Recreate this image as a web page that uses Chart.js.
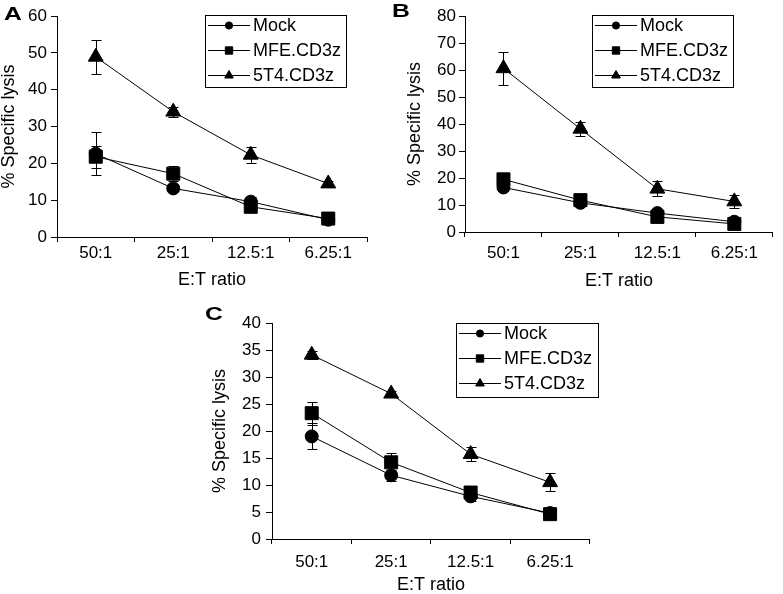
<!DOCTYPE html>
<html><head><meta charset="utf-8">
<script src="https://cdn.jsdelivr.net/npm/chart.js@4/dist/chart.umd.min.js"></script>
<style>
html,body{margin:0;padding:0;background:#fff}
body{width:783px;height:594px;position:relative;overflow:hidden;font-family:"Liberation Sans",Arial,sans-serif}
canvas{position:absolute}
.pl{position:absolute;font-weight:bold;font-size:19px;line-height:19px;color:#000;font-family:"Liberation Sans",Arial,sans-serif}
</style></head>
<body>
<canvas id="cA" width="390" height="300" style="left:0;top:0;width:390px;height:300px"></canvas>
<canvas id="cB" width="393" height="300" style="left:390px;top:0;width:393px;height:300px"></canvas>
<canvas id="cC" width="400" height="294" style="left:200px;top:300px;width:400px;height:294px"></canvas>
<div class="pl" style="left:4px;top:4px;transform:scaleX(1.3);transform-origin:left top">A</div>
<div class="pl" style="left:392px;top:1px;transform:scaleX(1.3);transform-origin:left top">B</div>
<div class="pl" style="left:205px;top:304px;transform:scaleX(1.3);transform-origin:left top">C</div>
<script>
// ---- data ----
const categories = ['50:1', '25:1', '12.5:1', '6.25:1'];
const seriesNames = ['Mock', 'MFE.CD3z', '5T4.CD3z'];
const xTitle = 'E:T ratio';
const yTitle = '% Specific lysis';

// Panel A
const aMock = [22.6, 13.2, 9.6, 4.7];
const aMockErr = [5.8, 0.8, 1.3, 0.5];
const aMfe = [21.8, 17.2, 8.2, 5.0];
const aMfeErr = [3.0, 2.1, 1.0, 0.6];
const a5t4 = [48.9, 34.0, 22.3, 14.5];
const a5t4Err = [4.6, 1.3, 2.2, 0.6];
const aYMax = 60, aYStep = 10;

// Panel B
const bMock = [16.5, 10.8, 7.0, 3.8];
const bMockErr = [1.0, 0.8, 0.8, 0.5];
const bMfe = [19.5, 11.8, 5.6, 3.0];
const bMfeErr = [1.0, 0.8, 0.6, 0.4];
const b5t4 = [60.6, 38.2, 16.0, 11.3];
const b5t4Err = [6.2, 2.6, 2.8, 2.4];
const bYMax = 80, bYStep = 10;

// Panel C
const cMock = [19.0, 11.8, 7.9, 4.8];
const cMockErr = [2.4, 1.0, 0.8, 0.4];
const cMfe = [23.3, 14.2, 8.6, 4.6];
const cMfeErr = [2.1, 1.8, 0.6, 0.4];
const c5t4 = [34.1, 26.9, 15.7, 10.5];
const c5t4Err = [0.7, 0.5, 1.3, 1.7];
const cYMax = 40, cYStep = 5;

// ---- styling ----
const FONT = '"Liberation Sans", Arial, sans-serif';
const pointStyles = ['circle', 'rect', 'triangle'];
const pointRadii = [6.5, 9.2, 8.6];
const legendRadii = [3.6, 5.2, 5.0];

function drawMarker(ctx, style, r, x, y) {
  ctx.beginPath();
  if (style === 'circle') {
    ctx.arc(x, y, r, 0, Math.PI * 2);
  } else if (style === 'rect') {
    const s = Math.SQRT1_2 * r;
    ctx.rect(x - s, y - s, 2 * s, 2 * s);
  } else {
    let rad = 0;
    ctx.moveTo(x + Math.sin(rad) * r, y - Math.cos(rad) * r);
    rad += 2 * Math.PI / 3;
    ctx.lineTo(x + Math.sin(rad) * r, y - Math.cos(rad) * r);
    rad += 2 * Math.PI / 3;
    ctx.lineTo(x + Math.sin(rad) * r, y - Math.cos(rad) * r);
    ctx.closePath();
  }
  ctx.fill();
  ctx.stroke();
}

const errorBarPlugin = {
  id: 'errorBars',
  beforeDatasetsDraw(chart) {
    const ctx = chart.ctx;
    const ys = chart.scales.y;
    ctx.save();
    ctx.strokeStyle = '#000';
    ctx.lineWidth = 1;
    chart.data.datasets.forEach((ds, i) => {
      const meta = chart.getDatasetMeta(i);
      ds.errors.forEach((e, j) => {
        const v = ds.data[j];
        const x = Math.round(meta.data[j].x) + 0.5;
        const t = Math.round(ys.getPixelForValue(v + e)) + 0.5;
        const b = Math.round(ys.getPixelForValue(v - e)) + 0.5;
        ctx.beginPath();
        ctx.moveTo(x, t); ctx.lineTo(x, b);
        ctx.moveTo(x - 5, t); ctx.lineTo(x + 5, t);
        ctx.moveTo(x - 5, b); ctx.lineTo(x + 5, b);
        ctx.stroke();
      });
    });
    ctx.restore();
  }
};

const boxLegendPlugin = {
  id: 'boxLegend',
  afterDraw(chart, args, opts) {
    const ctx = chart.ctx;
    ctx.save();
    ctx.strokeStyle = '#000';
    ctx.fillStyle = '#000';
    ctx.lineWidth = 1;
    ctx.strokeRect(opts.x + 0.5, opts.y + 0.5, opts.w, opts.h);
    ctx.font = '18px ' + FONT;
    ctx.textBaseline = 'middle';
    ctx.textAlign = 'left';
    chart.data.datasets.forEach((ds, i) => {
      const cy = opts.y + 10 + i * 25 + 0.5;
      ctx.beginPath();
      ctx.moveTo(opts.x + 3, cy);
      ctx.lineTo(opts.x + 45, cy);
      ctx.stroke();
      drawMarker(ctx, pointStyles[i], legendRadii[i], opts.x + 24, cy);
      ctx.fillText(ds.label, opts.x + 48, cy + 1);
    });
    ctx.restore();
  }
};

function makeDatasets(vals, errs) {
  return vals.map((v, i) => ({
    label: seriesNames[i],
    data: v,
    errors: errs[i],
    borderColor: '#000',
    backgroundColor: '#000',
    borderWidth: 1,
    pointStyle: pointStyles[i],
    pointRadius: pointRadii[i],
    pointBorderWidth: 1,
    pointBackgroundColor: '#000',
    pointBorderColor: '#000',
    tension: 0
  }));
}

function makeChart(id, vals, errs, yMax, yStep, p) {
  return new Chart(document.getElementById(id), {
    type: 'line',
    data: { labels: categories, datasets: makeDatasets(vals, errs) },
    options: {
      responsive: false,
      animation: false,
      devicePixelRatio: 1,
      layout: { padding: { top: p.top, right: p.right, left: 0, bottom: 0 } },
      plugins: {
        legend: { display: false },
        tooltip: { enabled: false },
        boxLegend: p.legend
      },
      scales: {
        x: {
          type: 'category',
          offset: true,
          grid: { display: true, offset: true, drawOnChartArea: false, drawTicks: true, tickLength: 5, color: '#000', lineWidth: 1 },
          border: { display: true, color: '#000', width: 1 },
          ticks: { color: '#000', font: { family: FONT, size: 17 }, padding: p.xPad, maxRotation: 0, autoSkip: false },
          title: { display: true, text: xTitle, color: '#000', font: { family: FONT, size: 18, lineHeight: 1 }, padding: { top: 0, bottom: p.xTitlePad } },
          afterFit(s) { s.height = p.xH; }
        },
        y: {
          min: 0, max: yMax,
          grid: { display: true, drawOnChartArea: false, drawTicks: true, tickLength: 6, color: '#000', lineWidth: 1 },
          border: { display: true, color: '#000', width: 1 },
          ticks: { color: '#000', stepSize: yStep, font: { family: FONT, size: 17 }, padding: p.yPad },
          title: { display: true, text: yTitle, color: '#000', font: { family: FONT, size: 18, lineHeight: 1 }, padding: { top: p.yTitlePad, bottom: 0 } },
          afterFit(s) { s.width = p.yW; }
        }
      }
    },
    plugins: [errorBarPlugin, boxLegendPlugin]
  });
}

makeChart('cA', [aMock, aMfe, a5t4], [aMockErr, aMfeErr, a5t4Err], aYMax, aYStep,
  { top: 16, right: 23, yW: 57, xH: 63, xPad: 1, xTitlePad: 11, yPad: 4, yTitlePad: 0,
    legend: { x: 205, y: 15, w: 141, h: 72 } });
makeChart('cB', [bMock, bMfe, b5t4], [bMockErr, bMfeErr, b5t4Err], bYMax, bYStep,
  { top: 16, right: 3, yW: 75, xH: 68, xPad: 6, xTitlePad: 10, yPad: 3, yTitlePad: 16,
    legend: { x: 202, y: 15, w: 141, h: 72 } });
makeChart('cC', [cMock, cMfe, c5t4], [cMockErr, cMfeErr, c5t4Err], cYMax, cYStep,
  { top: 23, right: 10, yW: 72, xH: 55, xPad: 8, xTitlePad: 0, yPad: 5, yTitlePad: 11,
    legend: { x: 256, y: 23, w: 142, h: 74 } });
</script>
</body></html>
